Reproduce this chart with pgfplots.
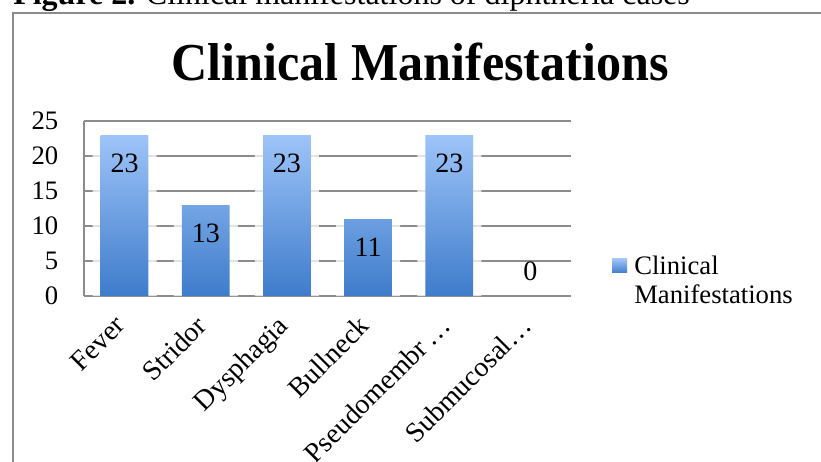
\documentclass[border=0pt]{standalone}
\usepackage{fontspec}
\setmainfont{Liberation Serif}
\usepackage{graphicx}
\usepackage{pgfplots}
\pgfplotsset{compat=1.18}
\definecolor{gridgray}{HTML}{8C8C8C}
\definecolor{bartop}{HTML}{9EC4F8}
\definecolor{barbot}{HTML}{3E7CCB}
\begin{document}
\begin{tikzpicture}
\useasboundingbox (0,0) rectangle (615.75pt,345.75pt);
\draw[gridgray, line width=1.5pt] (9.4pt,-2pt) -- (9.4pt,336.2pt) -- (620pt,336.2pt);
\node[anchor=base west, inner sep=0, font=\fontsize{24}{28}\selectfont] at (9.75pt,342pt) {\textbf{Figure 2.} Clinical manifestations of diphtheria cases};
\node[anchor=base, inner sep=0, font=\fontsize{40}{48}\selectfont\bfseries] at (315pt,285pt) {\scalebox{0.94}[1]{Clinical Manifestations}};
\begin{axis}[
  at={(63pt,123.75pt)}, anchor=south west,
  scale only axis, width=365.25pt, height=131.25pt,
  xmin=-0.5, xmax=5.5, ymin=0, ymax=25,
  xtick={0,...,5},
  xticklabels={Fever,Stridor,Dysphagia,Bullneck,Pseudomembr\,…,Submucosal…},
  ytick={0,5,...,25},
  axis x line*=bottom, axis y line*=left,
  axis line style={-, gridgray, line width=1.1pt},
  ymajorgrids, grid style={gridgray, line width=1.1pt},
  major tick length=0pt,
  tick label style={font=\fontsize{20}{24}\selectfont},
  /pgf/number format/assume math mode=true,
  yticklabel style={xshift=-15.75pt},
  xticklabel style={xshift=-8.25pt, yshift=-8.5pt, rotate=45, anchor=north east, font=\fontsize{21}{25}\selectfont},
  clip=false,
]
\addplot[ybar, bar width=48pt, bar shift=0pt, fill=white, fill opacity=0.75, draw=none]
  coordinates {(0,23) (1,13) (2,23) (3,11) (4,23)};
\addplot[ybar, bar width=35.8pt, bar shift=0pt, draw=none, top color=bartop, bottom color=barbot,
  nodes near coords,
  nodes near coords style={anchor=center, yshift=-21.4pt, font=\fontsize{21}{25}\selectfont, text=black}]
  coordinates {(0,23) (1,13) (2,23) (3,11) (4,23)};
\addplot[ybar, bar width=35.8pt, bar shift=0pt, draw=none, fill=none,
  nodes near coords,
  nodes near coords style={anchor=center, yshift=18.75pt, font=\fontsize{21}{25}\selectfont, text=black}]
  coordinates {(5,0)};
\end{axis}
\shade[top color=bartop, bottom color=barbot] (459pt,141pt) rectangle (470.25pt,151.5pt);
\node[anchor=base west, inner sep=0, font=\fontsize{20}{24}\selectfont] at (475.5pt,139.5pt) {Clinical};
\node[anchor=base west, inner sep=0, font=\fontsize{20}{24}\selectfont] at (475.5pt,117.75pt) {Manifestations};
\end{tikzpicture}
\end{document}
